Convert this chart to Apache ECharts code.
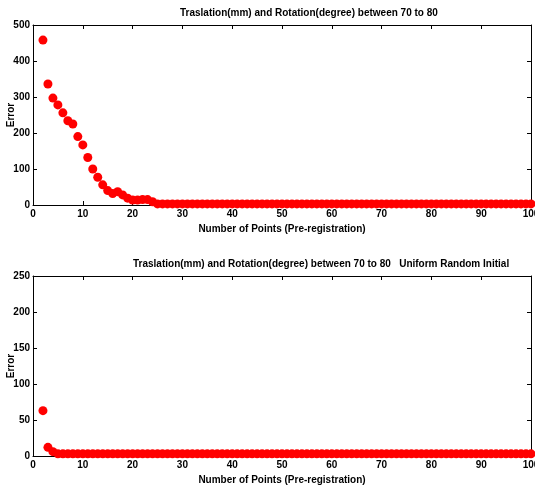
<!DOCTYPE html>
<html>
<head>
<meta charset="utf-8">
<script src="https://cdn.jsdelivr.net/npm/echarts@6/dist/echarts.min.js"></script>
<style>
html,body{margin:0;padding:0;background:#fff;}
#main{width:535px;height:491px;}
</style>
</head>
<body>
<div id="main"></div>
<script type="text/javascript">
// 数据：点数 2..100
var pointsTop = [2,3,4,5,6,7,8,9,10,11,12,13,14,15,16,17,18,19,20,21,22,23,24,25,26,27,28,29,30,31,32,33,34,35,36,37,38,39,40,41,42,43,44,45,46,47,48,49,50,51,52,53,54,55,56,57,58,59,60,61,62,63,64,65,66,67,68,69,70,71,72,73,74,75,76,77,78,79,80,81,82,83,84,85,86,87,88,89,90,91,92,93,94,95,96,97,98,99,100];
var errorTop = [458,336,297,278,256,234,225,190,167,132,100,77,56,40,32,37,28,19,14,14,15,15,9,3,3,3,3,3,3,3,3,3,3,3,3,3,3,3,3,3,3,3,3,3,3,3,3,3,3,3,3,3,3,3,3,3,3,3,3,3,3,3,3,3,3,3,3,3,3,3,3,3,3,3,3,3,3,3,3,3,3,3,3,3,3,3,3,3,3,3,3,3,3,3,3,3,3,3,3];
var pointsBottom = pointsTop;
var errorBottom = [63,12,6,3,3,3,3,3,3,3,3,3,3,3,3,3,3,3,3,3,3,3,3,3,3,3,3,3,3,3,3,3,3,3,3,3,3,3,3,3,3,3,3,3,3,3,3,3,3,3,3,3,3,3,3,3,3,3,3,3,3,3,3,3,3,3,3,3,3,3,3,3,3,3,3,3,3,3,3,3,3,3,3,3,3,3,3,3,3,3,3,3,3,3,3,3,3,3,3];
var titleTop = 'Traslation(mm) and Rotation(degree) between 70 to 80';
var titleBottom = 'Traslation(mm) and Rotation(degree) between 70 to 80   Uniform Random Initial';
var xName = 'Number of Points (Pre-registration)';
var yName = 'Error';

var font = '"Liberation Sans Narrow", "Liberation Sans", Arial, sans-serif';

function pairs(xs, ys) {
    var out = [];
    for (var i = 0; i < xs.length; i++) out.push([xs[i], ys[i]]);
    return out;
}

// 主刻度轴（下/左）
function xMain(idx) {
    return {
        gridIndex: idx, type: 'value', min: 0, max: 100, interval: 10,
        name: xName, nameLocation: 'middle', nameGap: 19,
        nameTextStyle: {fontFamily: font, fontWeight: 'bold', fontSize: 10, color: '#000'},
        axisLine: {onZero: false, lineStyle: {color: '#000', width: 1}},
        axisTick: {inside: true, length: 4, lineStyle: {color: '#000'}},
        axisLabel: {fontFamily: font, fontWeight: 'bold', fontSize: 10, color: '#000', margin: 4},
        splitLine: {show: false}
    };
}
// 顶部刻度（无标签）
function xTop(idx) {
    return {
        gridIndex: idx, type: 'value', position: 'top', min: 0, max: 100, interval: 10,
        axisLine: {onZero: false, lineStyle: {color: '#000', width: 1}},
        axisTick: {inside: true, length: 4, lineStyle: {color: '#000'}},
        axisLabel: {show: false}, splitLine: {show: false}
    };
}
function yMain(idx, max, step) {
    return {
        gridIndex: idx, type: 'value', min: 0, max: max, interval: step,
        name: yName, nameLocation: 'middle', nameGap: 17, nameMoveOverlap: false,
        nameTextStyle: {fontFamily: font, fontWeight: 'bold', fontSize: 10, color: '#000'},
        axisLine: {onZero: false, lineStyle: {color: '#000', width: 1}},
        axisTick: {inside: true, length: 4, lineStyle: {color: '#000'}},
        axisLabel: {fontFamily: font, fontWeight: 'bold', fontSize: 10, color: '#000', margin: 3},
        splitLine: {show: false}
    };
}
function yRight(idx, max, step) {
    return {
        gridIndex: idx, type: 'value', position: 'right', min: 0, max: max, interval: step,
        axisLine: {show: true, onZero: false, lineStyle: {color: '#000', width: 1}},
        axisTick: {show: true, inside: true, length: 4, lineStyle: {color: '#000'}},
        axisLabel: {show: false}, splitLine: {show: false}
    };
}

var myChart = echarts.init(document.getElementById('main'));
var option = {
    backgroundColor: '#fff',
    animation: false,
    title: [
        {text: titleTop, left: 175, top: 3, textStyle: {fontFamily: font, fontWeight: 'bold', fontSize: 10, color: '#000'}},
        {text: titleBottom, left: 128, top: 254, textStyle: {fontFamily: font, fontWeight: 'bold', fontSize: 10, color: '#000'}}
    ],
    grid: [
        {left: 33, right: 4, top: 25, height: 180, outerBoundsMode: 'none', containLabel: false},
        {left: 33, right: 4, top: 276, height: 180, outerBoundsMode: 'none', containLabel: false}
    ],
    xAxis: [xMain(0), xTop(0), xMain(1), xTop(1)],
    yAxis: [yMain(0, 500, 100), yRight(0, 500, 100), yMain(1, 250, 50), yRight(1, 250, 50)],
    series: [
        {
            type: 'scatter', xAxisIndex: 0, yAxisIndex: 0,
            symbolSize: 9, itemStyle: {color: '#ff0000', opacity: 1},
            data: pairs(pointsTop, errorTop)
        },
        {
            type: 'scatter', xAxisIndex: 2, yAxisIndex: 2,
            symbolSize: 9, itemStyle: {color: '#ff0000', opacity: 1},
            data: pairs(pointsBottom, errorBottom)
        }
    ]
};
myChart.setOption(option);
</script>
</body>
</html>
